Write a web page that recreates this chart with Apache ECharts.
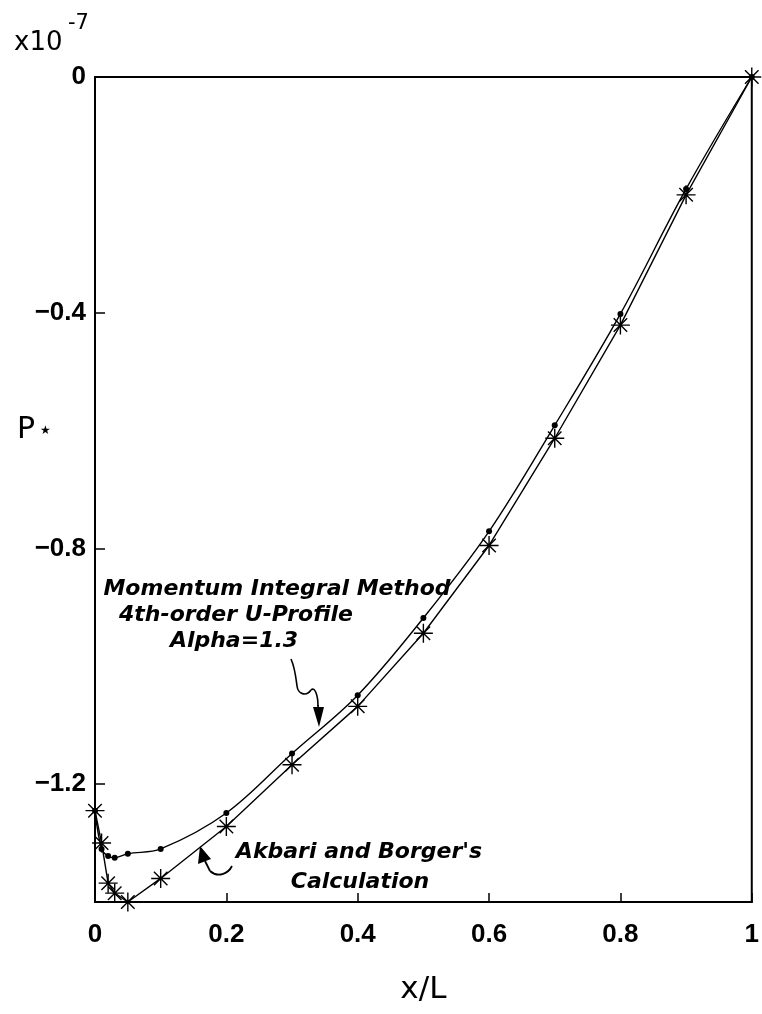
<!DOCTYPE html>
<html><head><meta charset="utf-8">
<script src="https://cdn.jsdelivr.net/npm/echarts@6/dist/echarts.min.js"></script>
<style>html,body{margin:0;padding:0;background:#fff}#c{width:762px;height:1014px}</style>
</head><body><div id="c"></div>
<script>
// Momentum Integral Method (4th-order U-profile, Alpha=1.3) - small dots, smooth curve
const xMomentum = [0, 0.01, 0.02, 0.03, 0.05, 0.1, 0.2, 0.3, 0.4, 0.5, 0.6, 0.7, 0.8, 0.9, 1];
const pMomentum = [-1.245, -1.31, -1.322, -1.325, -1.318, -1.31, -1.249, -1.148, -1.049, -0.918, -0.771, -0.591, -0.402, -0.19, 0];
// Akbari and Borger's Calculation - asterisks
const xAkbari = [0, 0.01, 0.02, 0.03, 0.05, 0.1, 0.2, 0.3, 0.4, 0.5, 0.6, 0.7, 0.8, 0.9, 1];
const pAkbari = [-1.245, -1.30, -1.368, -1.385, -1.40, -1.36, -1.272, -1.167, -1.068, -0.944, -0.795, -0.613, -0.421, -0.20, 0];
const yTickValues = [0, -0.4, -0.8, -1.2];
const xRange = [0, 1];
const yRange = [-1.4, 0];

const zip = (xs, ys) => xs.map((x, i) => [x, ys[i]]);
const starPath = 'path://M10,0L10,20M0,10L20,10M2.9,2.9L17.1,17.1M2.9,17.1L17.1,2.9';
const tickFont = {fontFamily: '"Liberation Sans", Arial, sans-serif', fontWeight: 'bold', fontSize: 26, color: '#000'};
const stroke = (w) => ({stroke: '#000', fill: null, lineWidth: w});

const chart = echarts.init(document.getElementById('c'), null, {renderer: 'canvas'});
chart.setOption({
  backgroundColor: '#fff',
  animation: false,
  grid: {left: 95, right: 4, top: 77, bottom: 112, show: true, borderColor: '#000', borderWidth: 2, backgroundColor: 'transparent'},
  xAxis: {
    type: 'value', min: xRange[0], max: xRange[1], interval: 0.2,
    name: 'x/L', nameLocation: 'middle', nameGap: 72,
    nameTextStyle: {fontFamily: '"DejaVu Sans", sans-serif', fontSize: 31, color: '#000'},
    axisLine: {show: true, onZero: false, lineStyle: {color: '#000', width: 2}},
    axisTick: {show: true, inside: true, length: 9, lineStyle: {color: '#000', width: 1.5}},
    axisLabel: Object.assign({margin: 20}, tickFont),
    splitLine: {show: false}
  },
  yAxis: {
    type: 'value', min: yRange[0], max: yRange[1], interval: 0.2,
    axisLine: {show: true, onZero: false, lineStyle: {color: '#000', width: 2}},
    axisTick: {show: true, inside: true, length: 10, customValues: yTickValues, lineStyle: {color: '#000', width: 1.5}},
    axisLabel: Object.assign({margin: 9, customValues: yTickValues,
      formatter: v => String(Math.round(v * 10) / 10).replace('-', '\u2212')}, tickFont),
    splitLine: {show: false}
  },
  series: [
    {
      name: 'Momentum Integral Method', type: 'line', data: zip(xMomentum, pMomentum),
      smooth: 0.35,
      symbol: 'circle', symbolSize: 6,
      itemStyle: {color: '#000'},
      lineStyle: {color: '#000', width: 1.4},
      z: 3
    },
    {
      name: "Akbari and Borger's Calculation", type: 'line', data: zip(xAkbari, pAkbari),
      symbol: starPath, symbolSize: 19, symbolKeepAspect: true,
      itemStyle: {color: 'rgba(0,0,0,0)', borderColor: '#000', borderWidth: 1.4},
      lineStyle: {color: '#000', width: 1.4},
      z: 4
    }
  ],
  graphic: [
    {type: 'text', style: {text: 'x10', x: 14, y: 56, font: '26px "DejaVu Sans", sans-serif', fill: '#000', textVerticalAlign: 'bottom'}},
    {type: 'text', style: {text: '-7', x: 68, y: 34, font: '21px "DejaVu Sans", sans-serif', fill: '#000', textVerticalAlign: 'bottom'}},
    {type: 'text', style: {text: 'P', x: 17, y: 430, font: '30px "DejaVu Sans", sans-serif', fill: '#000', textVerticalAlign: 'middle'}},
    {type: 'text', style: {text: '\u2605', x: 40, y: 431, font: '12px "DejaVu Sans", sans-serif', fill: '#000', textVerticalAlign: 'middle'}},
    {type: 'text', style: {text: 'Momentum Integral Method', x: 277, y: 589, font: 'italic bold 22px "DejaVu Sans", sans-serif', fill: '#000', textAlign: 'center', textVerticalAlign: 'middle'}},
    {type: 'text', style: {text: '4th-order U-Profile', x: 236, y: 615, font: 'italic bold 22px "DejaVu Sans", sans-serif', fill: '#000', textAlign: 'center', textVerticalAlign: 'middle'}},
    {type: 'text', style: {text: 'Alpha=1.3', x: 234, y: 641, font: 'italic bold 22px "DejaVu Sans", sans-serif', fill: '#000', textAlign: 'center', textVerticalAlign: 'middle'}},
    {type: 'text', style: {text: "Akbari and Borger's", x: 359, y: 852, font: 'italic bold 22px "DejaVu Sans", sans-serif', fill: '#000', textAlign: 'center', textVerticalAlign: 'middle'}},
    {type: 'text', style: {text: 'Calculation', x: 360, y: 882, font: 'italic bold 22px "DejaVu Sans", sans-serif', fill: '#000', textAlign: 'center', textVerticalAlign: 'middle'}},
    {type: 'bezierCurve', shape: {x1: 291, y1: 659, cpx1: 295, cpy1: 668, cpx2: 296, cpy2: 678, x2: 297, y2: 686}, style: stroke(1.6)},
    {type: 'bezierCurve', shape: {x1: 297, y1: 686, cpx1: 298, cpy1: 694, cpx2: 306, cpy2: 697, x2: 311, y2: 690}, style: stroke(1.6)},
    {type: 'bezierCurve', shape: {x1: 311, y1: 690, cpx1: 315, cpy1: 686, cpx2: 318, cpy2: 696, x2: 318, y2: 706}, style: stroke(1.6)},
    {type: 'line', shape: {x1: 318, y1: 705, x2: 318.5, y2: 712}, style: stroke(1.6)},
    {type: 'polygon', shape: {points: [[313, 707], [324, 707], [319, 727]]}, style: {fill: '#000'}},
    {type: 'bezierCurve', shape: {x1: 232, y1: 866, cpx1: 228, cpy1: 874, cpx2: 218, cpy2: 878, x2: 210, y2: 871}, style: stroke(1.8)},
    {type: 'line', shape: {x1: 210, y1: 871, x2: 205, y2: 861}, style: stroke(1.8)},
    {type: 'polygon', shape: {points: [[200, 846], [198, 864], [211, 859]]}, style: {fill: '#000'}}
  ]
});
</script>
</body></html>
